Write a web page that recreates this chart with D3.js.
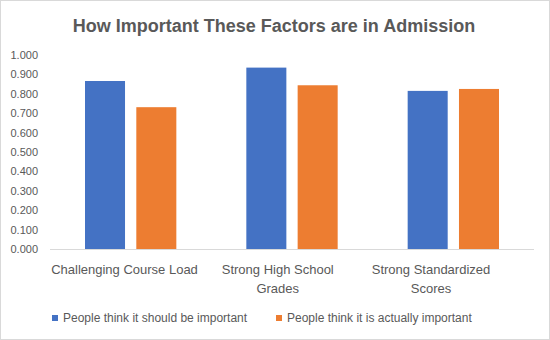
<!DOCTYPE html>
<html>
<head>
<meta charset="utf-8">
<script src="https://cdn.jsdelivr.net/npm/d3@7"></script>
<style>
  body { margin: 0; background: #fff; }
  svg { display: block; font-family: "Liberation Sans", Arial, sans-serif; }
</style>
</head>
<body>
<svg id="chart"></svg>
<script>
const categories = [
  ["Challenging Course Load"],
  ["Strong High School", "Grades"],
  ["Strong Standardized", "Scores"]
];
const seriesNames = ["People think it should be important", "People think it is actually important"];
const shouldValues = [0.866, 0.935, 0.815];
const actualValues = [0.731, 0.844, 0.825];
const yTicks = [0, 0.1, 0.2, 0.3, 0.4, 0.5, 0.6, 0.7, 0.8, 0.9, 1.0];
const colors = ["#4472C4", "#ED7D31"];

const width = 550;
const height = 340;
const margin = { top: 55, right: 16, bottom: 91, left: 50 };

const svg = d3.select("#chart").attr("width", width).attr("height", height);

// chart border
svg.append("rect")
  .attr("x", 0.5).attr("y", 0.5)
  .attr("width", width - 1).attr("height", height - 1)
  .attr("fill", "#fff")
  .attr("stroke", "#d9d9d9");

svg.append("text")
  .attr("x", width / 2 - 1)
  .attr("y", 32)
  .attr("text-anchor", "middle")
  .attr("fill", "#595959")
  .style("font-size", "18px")
  .style("font-weight", "bold")
  .text("How Important These Factors are in Admission");

const x = d3.scaleBand()
  .domain(d3.range(categories.length))
  .range([margin.left, width - margin.right])
  .paddingInner(0)
  .paddingOuter(0);

const inner = d3.scaleBand()
  .domain([0, 1])
  .range([35, x.bandwidth() - 35])
  .paddingInner(0.22);

const y = d3.scaleLinear()
  .domain([0, 1])
  .range([height - margin.bottom, margin.top]);

// y axis labels
const yAxis = svg.append("g")
  .attr("transform", `translate(${margin.left - 12},0)`)
  .call(d3.axisLeft(y).tickValues(yTicks).tickFormat(d3.format(".3f")).tickSize(0));
yAxis.select(".domain").remove();
yAxis.selectAll("text")
  .attr("fill", "#595959")
  .attr("x", 0)
  .style("font-size", "11px")
  .style("font-family", "Liberation Sans, Arial, sans-serif");

// bars
const series = [shouldValues, actualValues];
series.forEach((vals, s) => {
  svg.append("g")
    .selectAll("rect")
    .data(vals)
    .enter()
    .append("rect")
    .attr("x", (d, i) => x(i) + inner(s))
    .attr("y", d => y(d))
    .attr("width", inner.bandwidth())
    .attr("height", d => y(0) - y(d))
    .attr("fill", colors[s]);
});

// baseline
svg.append("line")
  .attr("x1", margin.left).attr("x2", width - margin.right)
  .attr("y1", y(0) + 0.5).attr("y2", y(0) + 0.5)
  .attr("stroke", "#d9d9d9");

// category labels (Excel centres them a little left of the bars)
const labelX = d3.scalePoint()
  .domain(d3.range(categories.length))
  .range([124.5, 431]);

categories.forEach((lines, i) => {
  const t = svg.append("text")
    .attr("text-anchor", "middle")
    .attr("fill", "#595959")
    .style("font-size", "13px");
  lines.forEach((line, j) => {
    t.append("tspan")
      .attr("x", labelX(i))
      .attr("y", 274 + j * 19)
      .text(line);
  });
});

// legend
const legendX = [52, 276];
seriesNames.forEach((name, s) => {
  svg.append("rect")
    .attr("x", legendX[s]).attr("y", 315)
    .attr("width", 6).attr("height", 6)
    .attr("fill", colors[s]);
  svg.append("text")
    .attr("x", legendX[s] + 11)
    .attr("y", 322)
    .attr("fill", "#595959")
    .style("font-size", "12px")
    .text(name);
});
</script>
</body>
</html>
